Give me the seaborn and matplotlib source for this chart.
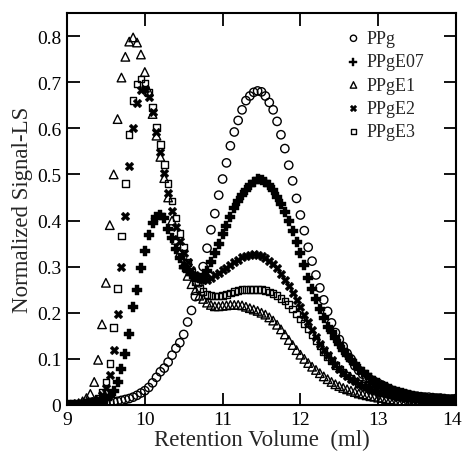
import numpy as np
import pandas as pd
import matplotlib
matplotlib.use("Agg")
import matplotlib.pyplot as plt
import matplotlib.transforms as mtransforms
import seaborn as sns

# ---------------- data ----------------
volume = [9.00, 9.05, 9.10, 9.15, 9.20, 9.25, 9.30, 9.35, 9.40, 9.45,
          9.50, 9.55, 9.60, 9.65, 9.70, 9.75, 9.80, 9.85, 9.90, 9.95,
          10.00, 10.05, 10.10, 10.15, 10.20, 10.25, 10.30, 10.35, 10.40, 10.45,
          10.50, 10.55, 10.60, 10.65, 10.70, 10.75, 10.80, 10.85, 10.90, 10.95,
          11.00, 11.05, 11.10, 11.15, 11.20, 11.25, 11.30, 11.35, 11.40, 11.45,
          11.50, 11.55, 11.60, 11.65, 11.70, 11.75, 11.80, 11.85, 11.90, 11.95,
          12.00, 12.05, 12.10, 12.15, 12.20, 12.25, 12.30, 12.35, 12.40, 12.45,
          12.50, 12.55, 12.60, 12.65, 12.70, 12.75, 12.80, 12.85, 12.90, 12.95,
          13.00, 13.05, 13.10, 13.15, 13.20, 13.25, 13.30, 13.35, 13.40, 13.45,
          13.50, 13.55, 13.60, 13.65, 13.70, 13.75, 13.80, 13.85, 13.90, 13.95,
          14.00]

ppg = [0.000, 0.000, 0.001, 0.001, 0.002, 0.002, 0.003, 0.003, 0.004, 0.004,
       0.005, 0.006, 0.007, 0.008, 0.010, 0.012, 0.014, 0.017, 0.021, 0.026,
       0.031, 0.038, 0.048, 0.060, 0.072, 0.080, 0.093, 0.108, 0.123, 0.135,
       0.153, 0.180, 0.205, 0.235, 0.265, 0.300, 0.340, 0.380, 0.415, 0.455,
       0.490, 0.525, 0.562, 0.592, 0.617, 0.640, 0.660, 0.670, 0.678, 0.681,
       0.679, 0.670, 0.656, 0.640, 0.615, 0.586, 0.556, 0.520, 0.486, 0.448,
       0.412, 0.378, 0.342, 0.312, 0.282, 0.254, 0.228, 0.203, 0.178, 0.157,
       0.142, 0.127, 0.112, 0.100, 0.085, 0.075, 0.067, 0.060, 0.055, 0.051,
       0.047, 0.043, 0.038, 0.034, 0.031, 0.028, 0.026, 0.024, 0.022, 0.020,
       0.019, 0.018, 0.017, 0.017, 0.016, 0.015, 0.015, 0.014, 0.013, 0.013,
       0.014]

ppge07 = [0.000, 0.000, 0.000, 0.001, 0.001, 0.002, 0.003, 0.004, 0.005, 0.008,
          0.012, 0.020, 0.031, 0.050, 0.078, 0.110, 0.155, 0.213, 0.250, 0.298,
          0.335, 0.368, 0.395, 0.408, 0.412, 0.405, 0.382, 0.362, 0.338, 0.318,
          0.300, 0.290, 0.283, 0.278, 0.275, 0.275, 0.290, 0.310, 0.330, 0.350,
          0.370, 0.388, 0.408, 0.427, 0.442, 0.456, 0.467, 0.476, 0.484, 0.489,
          0.488, 0.484, 0.476, 0.466, 0.452, 0.436, 0.418, 0.400, 0.377, 0.354,
          0.330, 0.304, 0.275, 0.252, 0.230, 0.208, 0.188, 0.170, 0.158, 0.145,
          0.132, 0.120, 0.108, 0.097, 0.088, 0.079, 0.071, 0.064, 0.058, 0.052,
          0.047, 0.042, 0.038, 0.034, 0.031, 0.028, 0.025, 0.023, 0.021, 0.019,
          0.018, 0.016, 0.015, 0.014, 0.013, 0.012, 0.012, 0.011, 0.010, 0.010,
          0.010]

ppge1 = [0.000, 0.001, 0.002, 0.004, 0.008, 0.015, 0.024, 0.050, 0.098, 0.175,
         0.265, 0.390, 0.500, 0.620, 0.710, 0.755, 0.788, 0.797, 0.786, 0.760,
         0.722, 0.680, 0.631, 0.584, 0.538, 0.492, 0.450, 0.400, 0.358, 0.330,
         0.305, 0.280, 0.262, 0.249, 0.237, 0.230, 0.222, 0.217, 0.214, 0.214,
         0.215, 0.216, 0.217, 0.217, 0.217, 0.216, 0.213, 0.210, 0.207, 0.204,
         0.200, 0.196, 0.190, 0.183, 0.174, 0.164, 0.153, 0.141, 0.130, 0.119,
         0.109, 0.100, 0.091, 0.083, 0.076, 0.069, 0.062, 0.056, 0.050, 0.045,
         0.041, 0.037, 0.034, 0.031, 0.028, 0.025, 0.023, 0.021, 0.019, 0.018,
         0.016, 0.015, 0.013, 0.012, 0.011, 0.010, 0.009, 0.008, 0.007, 0.007,
         0.006, 0.005, 0.005, 0.004, 0.004, 0.004, 0.003, 0.003, 0.003, 0.003,
         0.003]

ppge2 = [0.000, 0.000, 0.001, 0.002, 0.003, 0.004, 0.006, 0.009, 0.014, 0.022,
         0.036, 0.066, 0.120, 0.197, 0.300, 0.410, 0.518, 0.600, 0.655, 0.684,
         0.686, 0.668, 0.635, 0.592, 0.548, 0.503, 0.460, 0.420, 0.385, 0.355,
         0.330, 0.310, 0.293, 0.282, 0.275, 0.272, 0.272, 0.276, 0.281, 0.287,
         0.292, 0.298, 0.304, 0.310, 0.315, 0.320, 0.323, 0.326, 0.327, 0.326,
         0.323, 0.319, 0.313, 0.305, 0.296, 0.285, 0.272, 0.258, 0.243, 0.228,
         0.212, 0.196, 0.180, 0.163, 0.148, 0.133, 0.120, 0.108, 0.097, 0.087,
         0.078, 0.070, 0.063, 0.057, 0.051, 0.046, 0.042, 0.038, 0.034, 0.031,
         0.028, 0.026, 0.024, 0.022, 0.020, 0.018, 0.017, 0.015, 0.014, 0.013,
         0.012, 0.011, 0.010, 0.010, 0.009, 0.008, 0.008, 0.007, 0.007, 0.006,
         0.006]

ppge3 = [0.000, 0.000, 0.001, 0.002, 0.003, 0.004, 0.006, 0.009, 0.015, 0.027,
         0.050, 0.090, 0.168, 0.253, 0.366, 0.480, 0.586, 0.660, 0.696, 0.707,
         0.698, 0.678, 0.645, 0.602, 0.565, 0.522, 0.480, 0.442, 0.405, 0.372,
         0.343, 0.309, 0.288, 0.268, 0.253, 0.246, 0.240, 0.237, 0.236, 0.236,
         0.237, 0.240, 0.243, 0.246, 0.248, 0.250, 0.251, 0.251, 0.251, 0.251,
         0.250, 0.248, 0.245, 0.242, 0.237, 0.231, 0.226, 0.218, 0.208, 0.197,
         0.187, 0.177, 0.165, 0.152, 0.140, 0.128, 0.116, 0.105, 0.095, 0.086,
         0.078, 0.071, 0.064, 0.058, 0.052, 0.047, 0.043, 0.039, 0.035, 0.032,
         0.029, 0.026, 0.024, 0.022, 0.020, 0.018, 0.017, 0.016, 0.015, 0.014,
         0.013, 0.012, 0.011, 0.011, 0.010, 0.010, 0.009, 0.009, 0.008, 0.008,
         0.008]

series_names = ["PPg", "PPgE07", "PPgE1", "PPgE2", "PPgE3"]
series_values = [ppg, ppge07, ppge1, ppge2, ppge3]

x_ticks = [9, 10, 11, 12, 13, 14]
x_tick_labels = ["9", "10", "11", "12", "13", "14"]
y_ticks = [0, 0.1, 0.2, 0.3, 0.4, 0.5, 0.6, 0.7, 0.8]
y_tick_labels = ["0", "0.1", "0.2", "0.3", "0.4", "0.5", "0.6", "0.7", "0.8"]

# ---------------- styling ----------------
sns.set_theme(style="ticks")
plt.rcParams["font.family"] = ["Liberation Serif", "DejaVu Serif"]

styles = {
    "PPg":    dict(marker="o", s=36, facecolors="none", edgecolors="black", linewidths=1.0),
    "PPgE07": dict(marker="P", s=48, color="black", edgecolors="black", linewidths=0.3),
    "PPgE1":  dict(marker="^", s=38, facecolors="none", edgecolors="black", linewidths=1.0),
    "PPgE2":  dict(marker="X", s=40, color="black", edgecolors="black", linewidths=0.3),
    "PPgE3":  dict(marker="s", s=22, facecolors="none", edgecolors="black", linewidths=1.0),
}

frames = []
for name, vals in zip(series_names, series_values):
    frames.append(pd.DataFrame({"volume": volume, "signal": vals, "sample": name}))
df = pd.concat(frames, ignore_index=True)

fig = plt.figure(figsize=(4.63, 4.56), dpi=100)
ax = fig.add_axes([67 / 463, 50 / 456, 389 / 463, 392 / 456])

for name in series_names:
    sub = df[df["sample"] == name]
    sns.scatterplot(data=sub, x="volume", y="signal", ax=ax, label=name,
                    zorder=3, **styles[name])

ax.set_xlim(9, 14)
ax.set_ylim(0, 0.85)
ax.set_xticks(x_ticks)
ax.set_xticklabels(x_tick_labels)
ax.set_yticks(y_ticks)
ax.set_yticklabels(y_tick_labels)

ax.tick_params(direction="in", length=9, width=1.3, top=True, right=True,
               labelsize=14, pad=4, colors="black")
for sp in ax.spines.values():
    sp.set_linewidth(1.5)
    sp.set_color("black")

# keep the last x label inside the canvas
last = ax.get_xticklabels()[-1]
last.set_transform(last.get_transform() +
                   mtransforms.ScaledTranslation(-4 / 100, 0, fig.dpi_scale_trans))

ax.set_xlabel("Retention Volume  (ml)", fontsize=16.5, labelpad=1)
ax.set_ylabel("Normalized Signal-LS", fontsize=16.5, labelpad=3)

leg = ax.legend(loc="upper left", bbox_to_anchor=(0.69, 0.975), frameon=False,
                fontsize=13, markerscale=0.75, handletextpad=0.1,
                labelspacing=0.35, handlelength=1.2, borderaxespad=0)

fig.savefig("out.png", dpi=100)
